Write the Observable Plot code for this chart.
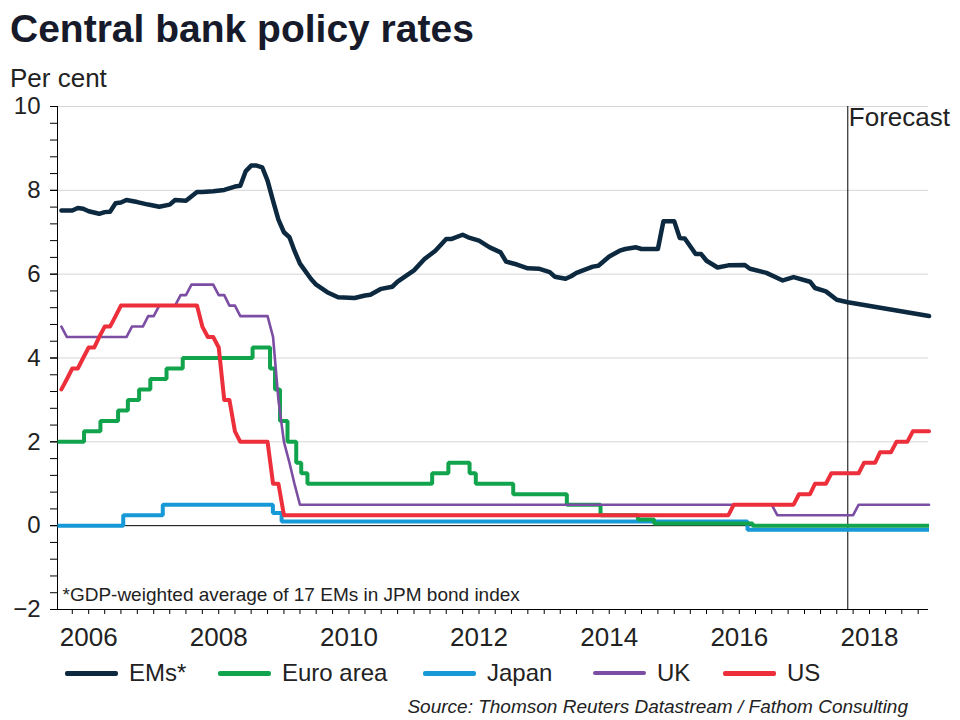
<!DOCTYPE html>
<html>
<head>
<meta charset="utf-8">
<script src="https://cdn.jsdelivr.net/npm/d3@7"></script>
<script src="https://cdn.jsdelivr.net/npm/@observablehq/plot@0.6"></script>
<style>
  html, body { margin: 0; padding: 0; background: #fff; }
  #wrap { position: relative; width: 960px; height: 720px; font-family: "Liberation Sans", Arial, sans-serif; color: #222; overflow: hidden; }
  .abs { position: absolute; white-space: nowrap; line-height: 1; }
  #title { left: 10px; top: 9px; font-size: 39px; font-weight: bold; color: #161a2a; }
  #sub { left: 10px; top: 65px; font-size: 26px; }
  #chart { left: 0; top: 90px; }
  .leg { position: absolute; top: 660px; height: 26px; display: flex; align-items: center; font-size: 24px; }
  .sw { display: inline-block; width: 53px; margin-right: 11px; border-radius: 2px; }
  #source { right: 52px; top: 697px; font-size: 19px; font-style: italic; }
</style>
</head>
<body>
<div id="wrap">
  <div id="title" class="abs"></div>
  <div id="sub" class="abs"></div>
  <div id="chart" class="abs"></div>
  <div id="legend"></div>
  <div id="source" class="abs"></div>
</div>
<script>
// ---------- text ----------
const titleText = "Central bank policy rates";
const unitText = "Per cent";
const footnoteText = "*GDP-weighted average of 17 EMs in JPM bond index";
const forecastText = "Forecast";
const sourceText = "Source: Thomson Reuters Datastream / Fathom Consulting";

// ---------- categories ----------
const seriesNames = ["EMs*", "Euro area", "Japan", "UK", "US"];
const seriesColors = ["#0c2940", "#12a44c", "#1699d6", "#7c4ea3", "#ec2f3b"];

// ---------- axis ticks ----------
const yearLabels = ["2006", "2008", "2010", "2012", "2014", "2016", "2018"];
const yTickValues = [-2, 0, 2, 4, 6, 8, 10];
const gridValues = [2, 4, 6, 8, 10];
const forecastStart = "2017-09-01";

// ---------- EMs* (monthly readings) ----------
const emDates = ["2005-08","2005-10","2005-11","2005-12","2006-01","2006-03","2006-04","2006-05","2006-06","2006-07","2006-08","2006-10","2006-12","2007-02","2007-04","2007-05","2007-07","2007-09","2007-10","2007-12","2008-02","2008-04","2008-05","2008-06","2008-07","2008-08","2008-09","2008-10","2008-11","2008-12","2009-01","2009-02","2009-03","2009-04","2009-06","2009-07","2009-09","2009-11","2010-02","2010-04","2010-05","2010-07","2010-09","2010-10","2011-01","2011-03","2011-05","2011-07","2011-08","2011-10","2011-11","2012-01","2012-03","2012-05","2012-06","2012-08","2012-10","2012-12","2013-02","2013-03","2013-05","2013-06","2013-07","2013-10","2013-11","2014-01","2014-03","2014-04","2014-06","2014-07","2014-10","2014-11","2015-01","2015-02","2015-03","2015-05","2015-06","2015-07","2015-09","2015-11","2016-02","2016-03","2016-06","2016-09","2016-11","2017-02","2017-03","2017-05","2017-07","2017-09","2018-12"];
const emValues = [7.52,7.52,7.58,7.56,7.50,7.44,7.48,7.49,7.69,7.71,7.77,7.72,7.66,7.61,7.66,7.77,7.75,7.96,7.96,7.98,8.01,8.09,8.11,8.46,8.59,8.59,8.55,8.23,7.75,7.30,7.00,6.88,6.56,6.25,5.89,5.75,5.57,5.45,5.43,5.49,5.51,5.65,5.70,5.82,6.09,6.36,6.56,6.84,6.84,6.94,6.88,6.80,6.64,6.52,6.30,6.23,6.14,6.13,6.05,5.94,5.89,5.95,6.03,6.18,6.20,6.42,6.56,6.60,6.64,6.60,6.60,7.26,7.26,6.86,6.85,6.48,6.48,6.32,6.16,6.21,6.22,6.13,6.03,5.85,5.93,5.82,5.67,5.59,5.39,5.33,5.00];

// ---------- Euro area (rate changes) ----------
const euroDates = ["2005-07-10","2005-12-06","2006-03-08","2006-06-15","2006-08-09","2006-10-11","2006-12-13","2007-03-14","2007-06-13","2008-07-09","2008-10-15","2008-11-12","2008-12-10","2009-01-21","2009-03-11","2009-04-08","2009-05-13","2011-04-13","2011-07-13","2011-11-09","2011-12-14","2012-07-11","2013-05-08","2013-11-13","2014-06-11","2014-09-10","2016-03-16","2018-12-01"];
const euroValues = [2.0,2.25,2.5,2.75,3.0,3.25,3.5,3.75,4.0,4.25,3.75,3.25,2.5,2.0,1.5,1.25,1.0,1.25,1.5,1.25,1.0,0.75,0.5,0.25,0.15,0.05,0.0,0.0];

// ---------- Japan (rate changes) ----------
const japanDates = ["2005-07-10","2006-07-14","2007-02-21","2008-10-31","2008-12-19","2016-02-16","2018-12-01"];
const japanValues = [0.0,0.25,0.5,0.3,0.1,-0.1,-0.1];

// ---------- UK (monthly vertices) ----------
const ukDates = ["2005-08","2005-09","2006-08","2006-09","2006-11","2006-12","2007-01","2007-02","2007-05","2007-06","2007-07","2007-08","2007-12","2008-01","2008-02","2008-03","2008-04","2008-05","2008-10","2008-11","2008-12","2009-01","2009-02","2009-03","2009-04","2016-07","2016-08","2017-10","2017-11","2018-12"];
const ukValues = [4.75,4.5,4.5,4.75,4.75,5.0,5.0,5.25,5.25,5.5,5.5,5.75,5.75,5.5,5.5,5.25,5.25,5.0,5.0,4.5,3.0,2.0,1.5,1.0,0.5,0.5,0.25,0.25,0.5,0.5];

// ---------- US (monthly vertices) ----------
const usDates = ["2005-08","2005-09","2005-10","2005-11","2005-12","2006-01","2006-02","2006-03","2006-04","2006-05","2006-06","2006-07","2007-09","2007-10","2007-11","2007-12","2008-01","2008-02","2008-03","2008-04","2008-05","2008-10","2008-11","2008-12","2009-01","2015-11","2015-12","2016-11","2016-12","2017-02","2017-03","2017-05","2017-06","2017-11","2017-12","2018-02","2018-03","2018-05","2018-06","2018-08","2018-09","2018-12"];
const usValues = [3.25,3.5,3.75,3.75,4.0,4.25,4.25,4.5,4.75,4.75,5.0,5.25,5.25,4.75,4.5,4.5,4.25,3.0,3.0,2.25,2.0,2.0,1.0,1.0,0.25,0.25,0.5,0.5,0.75,0.75,1.0,1.0,1.25,1.25,1.5,1.5,1.75,1.75,2.0,2.0,2.25,2.25];

// ---------- build ----------
const rows = (dates, values) => dates.map((d, i) => ({date: new Date(d), value: values[i]}));
const em = rows(emDates, emValues);
const euro = rows(euroDates, euroValues);
const japan = rows(japanDates, japanValues);
const uk = rows(ukDates, ukValues);
const us = rows(usDates, usValues);

const xDomain = [new Date("2005-07-10"), new Date("2018-11-28")];
const fDate = new Date(forecastStart);
const quarterTicks = d3.utcMonth.every(3).range(xDomain[0], xDomain[1]);
const yearTicks = yearLabels.map(y => new Date(Date.UTC(+y, 0, 1)));
const yMinorTicks = d3.range(0, 31).map(i => -2 + i * 0.4);

const font = '"Liberation Sans", Arial, sans-serif';
const txt = "#222";

const chart = Plot.plot({
  width: 960,
  height: 560,
  marginLeft: 57,
  marginRight: 32,
  marginTop: 16,
  marginBottom: 41,
  style: {fontFamily: font, background: "transparent", color: txt, overflow: "visible"},
  x: {type: "utc", domain: xDomain},
  y: {domain: [-2, 10]},
  marks: [
    Plot.ruleY(gridValues, {stroke: "#d6d6d6", strokeWidth: 1}),
    Plot.ruleY([0], {stroke: "#000", strokeWidth: 1}),
    Plot.ruleY([-2], {stroke: "#000", strokeWidth: 1}),
    Plot.ruleX([xDomain[0]], {y1: -2, y2: 10, stroke: "#000", strokeWidth: 1}),
    Plot.ruleX([fDate], {y1: -2, y2: 10, stroke: "#000", strokeWidth: 1}),
    Plot.axisY({ticks: yMinorTicks, tickSize: 7, tickFormat: () => "", label: null, stroke: "#000"}),
    Plot.axisY({ticks: yTickValues, tickSize: 7, tickPadding: 10, fontSize: 24, label: null, stroke: "#000", fill: txt}),
    Plot.axisX({ticks: quarterTicks, tickSize: 5, tickFormat: () => "", label: null, stroke: "#000"}),
    Plot.axisX({ticks: yearTicks, tickSize: 0, tickPadding: 18, fontSize: 26, tickFormat: d3.utcFormat("%Y"), label: null, fill: txt}),
    Plot.line(japan, {x: "date", y: "value", curve: "step-after", stroke: seriesColors[2], strokeWidth: 4, strokeLinecap: "butt", strokeLinejoin: "miter"}),
    Plot.line(euro, {x: "date", y: "value", curve: "step-after", stroke: seriesColors[1], strokeWidth: 4, strokeLinecap: "butt", strokeLinejoin: "miter"}),
    Plot.line(uk, {x: "date", y: "value", stroke: seriesColors[3], strokeWidth: 2.6}),
    Plot.line(us, {x: "date", y: "value", stroke: seriesColors[4], strokeWidth: 4}),
    Plot.line(em, {x: "date", y: "value", stroke: seriesColors[0], strokeWidth: 4.5}),
    Plot.text([forecastText], {x: () => fDate, frameAnchor: "top", textAnchor: "start", lineAnchor: "top", dx: 1, dy: 1, fontSize: 26, fill: txt}),
    Plot.text([footnoteText], {frameAnchor: "bottom-left", textAnchor: "start", lineAnchor: "bottom", dx: 5, dy: -9, fontSize: 19, fill: txt})
  ]
});

document.getElementById("title").textContent = titleText;
document.getElementById("sub").textContent = unitText;
document.getElementById("source").textContent = sourceText;
document.getElementById("chart").appendChild(chart);

// legend
const legendLeft = [65, 218, 423, 593, 723];
const legendWidth = [5, 5, 5, 3.5, 5];
const legend = document.getElementById("legend");
seriesNames.forEach((name, i) => {
  const item = document.createElement("div");
  item.className = "leg";
  item.style.left = legendLeft[i] + "px";
  const sw = document.createElement("span");
  sw.className = "sw";
  sw.style.height = legendWidth[i] + "px";
  sw.style.background = seriesColors[i];
  const label = document.createElement("span");
  label.textContent = name;
  item.appendChild(sw);
  item.appendChild(label);
  legend.appendChild(item);
});
</script>
</body>
</html>
